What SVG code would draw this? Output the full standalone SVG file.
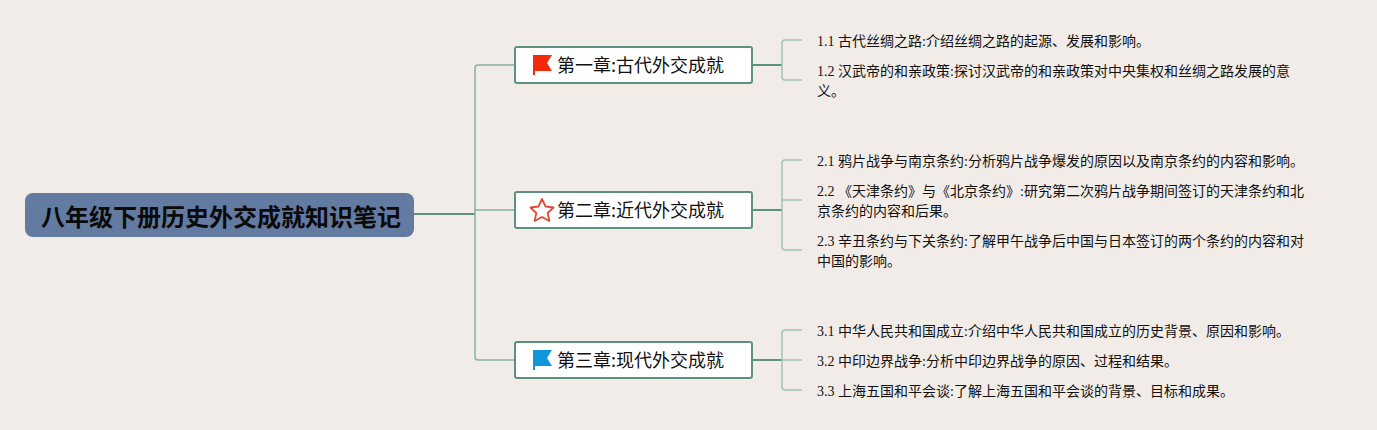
<svg xmlns="http://www.w3.org/2000/svg" width="1377" height="430" viewBox="0 0 1377 430">
<style>
text{font-family:"Liberation Serif","Noto Sans CJK SC",serif;fill:#111}
.leaf{font-size:14px}
.ch{font-size:18px;font-family:"Noto Sans CJK SC",sans-serif}
.root{font-size:24px;font-weight:700;font-family:"Noto Sans CJK SC",sans-serif;fill:#0a0a0a}
.box{fill:#fff;stroke:#5c9180;stroke-width:2}
.c1{fill:none;stroke:#85b1a1;stroke-width:1.5}
.c2{fill:none;stroke:#a3c2b4;stroke-width:1.5}
.c0{fill:none;stroke:#5c9180;stroke-width:2}
</style>
<rect width="1377" height="430" fill="#f1ece7"/>
<g id="connectors">
<path class="c0" d="M414 214H475"/>
<path class="c1" d="M515 65H478Q475 65 475 68V357Q475 360 478 360H515M475 210H515"/>
<path class="c0" d="M752 65H782M752 210H782M752 360H782"/>
<path class="c2" d="M802 40H785Q782 40 782 43V77Q782 80 785 80H802"/>
<path class="c2" d="M802 160H785Q782 160 782 163V247Q782 250 785 250H802M782 200H802"/>
<path class="c2" d="M802 330H785Q782 330 782 333V387Q782 390 785 390H802M782 360H802"/>
</g>
<g id="root"><rect x="25" y="193" width="389" height="44" rx="8" fill="#637aa1"/><text class="root" x="41" y="226">八年级下册历史外交成就知识笔记</text></g>
<g id="ch1"><rect class="box" x="515" y="47" width="237" height="36" rx="2"/>
<path d="M533 55H552L547 63L552 71H535V75H533Z" fill="#f5290c"/>
<text class="ch" x="557" y="72">第一章:古代外交成就</text></g>
<g id="ch2"><rect class="box" x="515" y="192" width="237" height="36" rx="2"/>
<path d="M542 199L545.6 206.5L553.5 207.5L547.7 213L549.3 221L542 217L534.7 221L536.3 213L530.5 207.5L538.4 206.5Z" fill="none" stroke="#e34a36" stroke-width="1.8" stroke-linejoin="round"/>
<text class="ch" x="557" y="217">第二章:近代外交成就</text></g>
<g id="ch3"><rect class="box" x="515" y="342" width="237" height="36" rx="2"/>
<path d="M533 350H552L547 358L552 366H535V370H533Z" fill="#1296db"/>
<text class="ch" x="557" y="367">第三章:现代外交成就</text></g>
<g id="l11"><text class="leaf" x="817" y="46">1.1 古代丝绸之路:介绍丝绸之路的起源、发展和影响。</text></g>
<g id="l12"><text class="leaf" x="817" y="76">1.2 汉武帝的和亲政策:探讨汉武帝的和亲政策对中央集权和丝绸之路发展的意</text><text class="leaf" x="817" y="96">义。</text></g>
<g id="l21"><text class="leaf" x="817" y="166">2.1 鸦片战争与南京条约:分析鸦片战争爆发的原因以及南京条约的内容和影响。</text></g>
<g id="l22"><text class="leaf" x="817" y="196">2.2 《天津条约》与《北京条约》:研究第二次鸦片战争期间签订的天津条约和北</text><text class="leaf" x="817" y="216">京条约的内容和后果。</text></g>
<g id="l23"><text class="leaf" x="817" y="246">2.3 辛丑条约与下关条约:了解甲午战争后中国与日本签订的两个条约的内容和对</text><text class="leaf" x="817" y="266">中国的影响。</text></g>
<g id="l31"><text class="leaf" x="817" y="336">3.1 中华人民共和国成立:介绍中华人民共和国成立的历史背景、原因和影响。</text></g>
<g id="l32"><text class="leaf" x="817" y="366">3.2 中印边界战争:分析中印边界战争的原因、过程和结果。</text></g>
<g id="l33"><text class="leaf" x="817" y="396">3.3 上海五国和平会谈:了解上海五国和平会谈的背景、目标和成果。</text></g>
</svg>
